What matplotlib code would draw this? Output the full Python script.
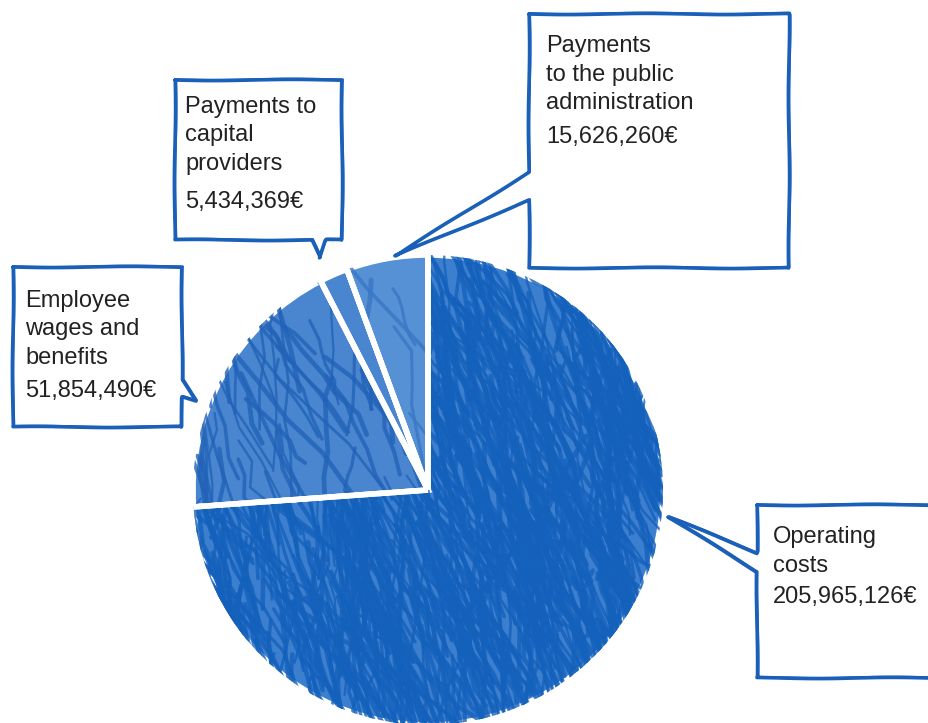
import numpy as np
import matplotlib.pyplot as plt
from matplotlib.lines import Line2D

# value added distribution (EUR)
labels = ["Operating\ncosts",
          "Employee\nwages and\nbenefits",
          "Payments to\ncapital\nproviders",
          "Payments\nto the public\nadministration"]
values = [205965126, 51854490, 5434369, 15626260]

base_colors = ["#3d7fcf", "#4a86d0", "#4a86d0", "#5690d5"]
stroke_colors = ["#1461bc", "#2363b7", "#2363b7", "#3a77c5"]
line_color = "#1a5fb8"
text_color = "#222222"

W, H = 929, 723
cx, cy, r = 428, 490, 235

fig = plt.figure(figsize=(W / 100, H / 100), dpi=100)
ax = fig.add_axes([0, 0, 1, 1])

# y axis is flipped, so counterclock=True runs clockwise on screen
wedges, _ = ax.pie(values, colors=base_colors, startangle=-90, counterclock=True,
                   center=(cx, cy), radius=r,
                   wedgeprops=dict(edgecolor="white", linewidth=4))

ax.set_xlim(0, W)
ax.set_ylim(H, 0)
ax.set_aspect("equal")
ax.axis("off")

# scribbled pencil fill inside each wedge
rng = np.random.default_rng(7)
for w, sc, n in zip(wedges, stroke_colors, [900, 230, 40, 80]):
    for _ in range(n):
        ang = np.deg2rad(rng.normal(72, 14))
        x0 = rng.uniform(cx - r, cx + r)
        y0 = rng.uniform(cy - r, cy + r)
        L = rng.uniform(60, 240)
        t = np.linspace(-0.5, 0.5, 6) * L
        xs = x0 + t * np.cos(ang) + rng.normal(0, 3, 6)
        ys = y0 + t * np.sin(ang) + rng.normal(0, 3, 6)
        ln, = ax.plot(xs, ys, color=sc, lw=rng.uniform(1.5, 3.5),
                      alpha=0.8, solid_capstyle="round")
        ln.set_clip_path(w)

# white separators redrawn on top of the scribbles
for w in wedges:
    th1, th2 = np.deg2rad([w.theta1, w.theta2])
    for th in (th1, th2):
        ax.plot([cx, cx + r * np.cos(th)], [cy, cy + r * np.sin(th)],
                color="white", lw=4, solid_capstyle="butt")


def sketch_outline(pts):
    pts = np.array(pts + [pts[0]], dtype=float)
    for dx, dy, lw in [(0, 0, 2.6), (1.0, -0.8, 1.3)]:
        ln = Line2D(pts[:, 0] + dx, pts[:, 1] + dy, color=line_color, lw=lw,
                    solid_joinstyle="round", solid_capstyle="round")
        ln.set_sketch_params(0.6, 160, 1.5)
        ax.add_line(ln)


callouts = [
    [(13, 267), (182, 267), (182, 380), (196, 401), (182, 397), (182, 427), (13, 427)],
    [(175, 80), (342, 80), (342, 240), (326, 240), (320, 258), (312, 240), (175, 240)],
    [(529, 14), (789, 14), (789, 268), (529, 268), (529, 200), (395, 256), (529, 172)],
    [(757, 505), (945, 505), (945, 678), (757, 678), (757, 572), (668, 517), (757, 553)],
]
for pts in callouts:
    sketch_outline(pts)

# label anchors: (x, first baseline, value baseline) for each slice
text_pos = [(773, 543, 603), (25, 307, 397), (185, 113, 208), (546, 52, 143)]
font = dict(family=["Liberation Sans", "DejaVu Sans"], size=17, color=text_color)
for lab, val, (tx, ty, vy) in zip(labels, values, text_pos):
    for i, line in enumerate(lab.split("\n")):
        ax.text(tx, ty + i * 28.5, line, va="baseline", ha="left", **font)
    ax.text(tx, vy, f"{val:,}€", va="baseline", ha="left", **font)

fig.savefig("out.png", dpi=100, facecolor="white")
